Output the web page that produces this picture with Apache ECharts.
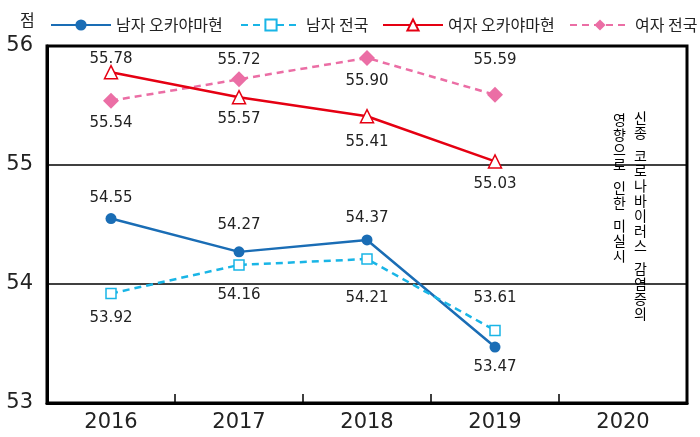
<!DOCTYPE html>
<html lang="ko">
<head>
    <meta charset="UTF-8">
    <title>점수 추이</title>
    <script src="https://cdn.jsdelivr.net/npm/echarts@6/dist/echarts.min.js"></script>
    <style>
        html, body { margin: 0; padding: 0; background: #fff; }
        #chart { width: 700px; height: 437px; }
    </style>
</head>
<body>
    <div id="chart"></div>
</body>
</html>
<script>
    // 데이터
    var years = ['2016', '2017', '2018', '2019', '2020'];
    var seriesNames = ['남자 오카야마현', '남자 전국', '여자 오카야마현', '여자 전국'];
    var maleOkayama = [54.55, 54.27, 54.37, 53.47, null];
    var maleNational = [53.92, 54.16, 54.21, 53.61, null];
    var femaleOkayama = [55.78, 55.57, 55.41, 55.03, null];
    var femaleNational = [55.54, 55.72, 55.90, 55.59, null];
    var yTicks = [53, 54, 55, 56];

    // 라벨 위치 (점 기준 세로 이동, px)
    var maleOkayamaDy = [-20, -27, -22, 20];
    var maleNationalDy = [25, 30, 39, -32];
    var femaleOkayamaDy = [-13, 22, 26, 23];
    var femaleNationalDy = [22, -19, 23, -35];

    var numFont = 'DejaVu Sans';
    var krFont = 'Noto Sans CJK KR';

    function withLabels(values, dy) {
        return values.map(function (v, i) {
            if (v == null) return null;
            return { value: v, label: { offset: [0, dy[i]] } };
        });
    }

    function makeSeries(name, values, dy, color, dashed, symbol, size, hollow) {
        return {
            name: name,
            type: 'line',
            data: withLabels(values, dy),
            symbol: symbol,
            symbolSize: size,
            showAllSymbol: true,
            lineStyle: { color: color, width: 2.5, type: dashed ? [7, 5] : 'solid' },
            itemStyle: {
                color: hollow ? '#fff' : color,
                borderColor: color,
                borderWidth: hollow ? 1.5 : 0
            },
            label: {
                show: true,
                position: 'inside',
                formatter: function (p) { return p.value.toFixed(2); },
                fontFamily: numFont,
                fontSize: 15,
                color: '#222'
            },
            emphasis: { disabled: true },
            z: hollow ? 3 : 2
        };
    }

    // 범례: 항목마다 따로 배치 (줄바꿈 방지)
    var legendLefts = [45, 235, 377, 564];
    var legends = seriesNames.map(function (name, i) {
        return {
            left: legendLefts[i], top: 12,
            itemWidth: 60, itemHeight: 14,
            textStyle: { fontFamily: krFont, fontSize: 16, color: '#222' },
            data: [name]
        };
    });

    // 세로 글씨 (한 글자씩)
    function vertical(str) {
        return str.split('').map(function (ch) {
            return ch === ' ' ? '{s| }' : '{c|' + ch + '}';
        }).join('\n');
    }
    var richStyle = {
        c: { fontFamily: krFont, fontSize: 14, lineHeight: 15, color: '#222', align: 'center' },
        s: { fontFamily: krFont, fontSize: 8, lineHeight: 8, color: '#222' }
    };

    var chart = echarts.init(document.getElementById('chart'));
    chart.setOption({
        animation: false,
        backgroundColor: '#fff',
        grid: {
            left: 47, right: 13, top: 46, bottom: 34,
            show: true, borderColor: '#000', borderWidth: 3
        },
        legend: legends,
        xAxis: {
            type: 'category',
            data: years,
            boundaryGap: true,
            axisLine: { lineStyle: { color: '#000', width: 3 } },
            axisTick: { show: true, inside: true, length: 9, lineStyle: { color: '#000', width: 1.5 } },
            axisLabel: { fontFamily: numFont, fontSize: 21, color: '#222', margin: 9 }
        },
        yAxis: {
            type: 'value',
            min: yTicks[0],
            max: yTicks[yTicks.length - 1],
            interval: 1,
            axisLine: { show: true, lineStyle: { color: '#000', width: 3 } },
            axisTick: { show: false },
            splitLine: { lineStyle: { color: '#000', width: 1.5 } },
            axisLabel: { fontFamily: numFont, fontSize: 21, color: '#222', margin: 14 }
        },
        graphic: [
            {
                type: 'text', left: 20, top: 12,
                style: { text: '점', fontFamily: krFont, fontSize: 16, fill: '#222' }
            },
            {
                type: 'text', left: 634, top: 111,
                style: { text: vertical('신종 코로나바이러스 감염증의'), rich: richStyle }
            },
            {
                type: 'text', left: 613, top: 113,
                style: { text: vertical('영향으로 인한 미실시'), rich: richStyle }
            }
        ],
        series: [
            makeSeries(seriesNames[0], maleOkayama, maleOkayamaDy, '#1a6db5', false, 'circle', 11, false),
            makeSeries(seriesNames[1], maleNational, maleNationalDy, '#19b5e6', true, 'rect', 10, true),
            makeSeries(seriesNames[2], femaleOkayama, femaleOkayamaDy, '#e50012', false, 'triangle', 13, true),
            makeSeries(seriesNames[3], femaleNational, femaleNationalDy, '#eb6ea5', true, 'diamond', 16, false)
        ]
    });
    window.onresize = chart.resize;
</script>
